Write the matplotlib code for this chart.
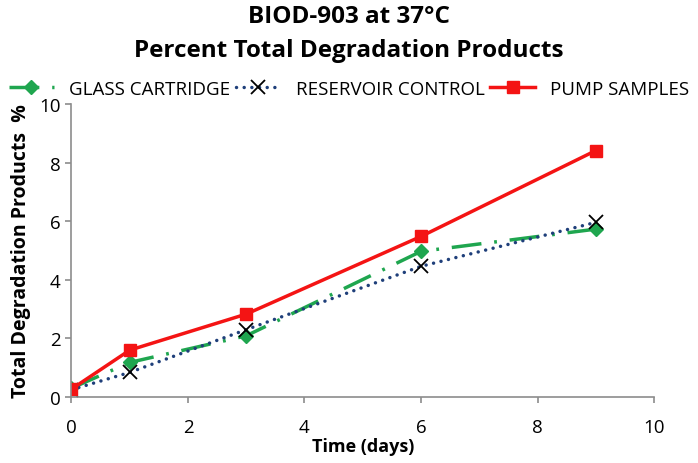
import matplotlib
matplotlib.use("Agg")
import matplotlib.pyplot as plt

plt.rcParams['font.family'] = ['Open Sans', 'DejaVu Sans']

days = [0, 1, 3, 6, 9]
glass = [0.3, 1.18, 2.09, 4.97, 5.73]
reservoir = [0.25, 0.84, 2.3, 4.46, 5.96]
pump = [0.27, 1.6, 2.83, 5.48, 8.41]

fig = plt.figure(figsize=(6.98, 4.64), dpi=100)
ax = fig.add_axes([0.1024, 0.1422, 0.8346, 0.6315])

ax.plot(days, glass, color='#1fa64f', lw=2.5, dashes=(8.6, 3.7, 0.8, 3.7),
        marker='D', ms=7.5, label='GLASS CARTRIDGE')
ax.plot(days, reservoir, color='#1f3f7a', lw=2.5, linestyle=(0, (0.01, 2.2)),
        dash_capstyle='round', marker='x', ms=10, mec='black', mew=1.3,
        label='RESERVOIR CONTROL')
ax.plot(days, pump, color='#f41414', lw=2.5, marker='s', ms=8.5,
        label='PUMP SAMPLES')

ax.set_xlim(0, 10)
ax.set_ylim(0, 10)
ax.set_xticks(range(0, 11, 2))
ax.set_yticks(range(0, 11, 2))
for s in ['top', 'right']:
    ax.spines[s].set_visible(False)
for s in ['left', 'bottom']:
    ax.spines[s].set_color('#8c8c8c')
    ax.spines[s].set_linewidth(1.2)
ax.tick_params(colors='#8c8c8c', labelcolor='black', labelsize=13.5,
               length=4, width=1.2, pad=4)
ax.tick_params(axis='x', pad=11)

ax.set_xlabel('Time (days)', fontsize=13, fontweight='bold', labelpad=1)
ax.set_ylabel('Total Degradation Products  %', fontsize=14, fontweight='bold', labelpad=6)

fig.text(0.5, 1 - 17 / 464, 'BIOD-903 at 37°C', ha='center', va='center',
         fontsize=17.5, fontweight='bold')
fig.text(0.5, 1 - 51 / 464, 'Percent Total Degradation Products', ha='center', va='center',
         fontsize=17.5, fontweight='bold')

fig.legend(loc='center', bbox_to_anchor=(0.5, 1 - 90 / 464), ncol=3, frameon=False,
           fontsize=13.5, handlelength=2.4, columnspacing=0.3, handletextpad=0.8,
           borderaxespad=0, borderpad=0)

fig.savefig('out.png', dpi=100)
